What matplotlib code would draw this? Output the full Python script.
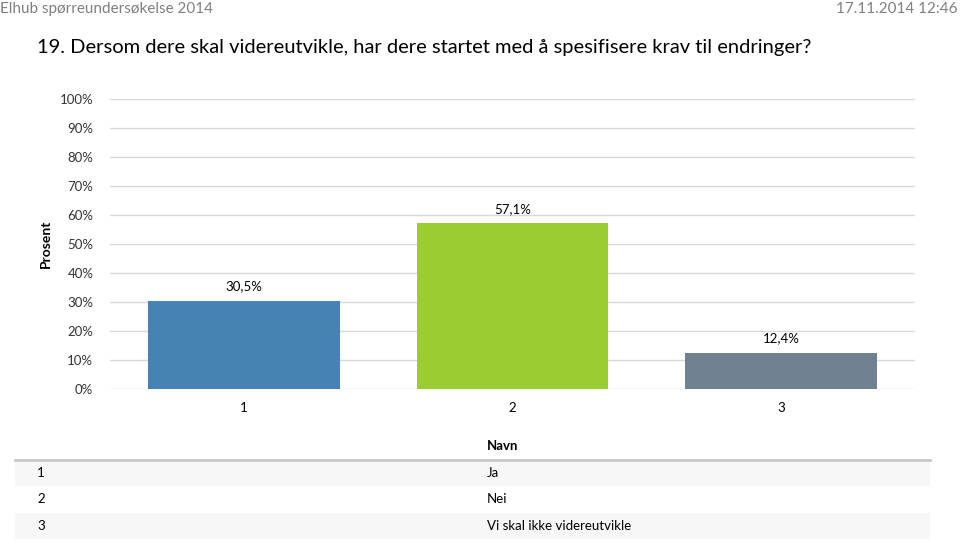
import matplotlib
matplotlib.use("Agg")
import matplotlib.pyplot as plt
from matplotlib.patches import Rectangle
from matplotlib.lines import Line2D

categories = ["1", "2", "3"]
values = [30.5, 57.1, 12.4]
value_labels = ["30,5%", "57,1%", "12,4%"]
colors = ["#4682B4", "#9ACD32", "#708090"]
yticks = [0, 10, 20, 30, 40, 50, 60, 70, 80, 90, 100]
names = ["Ja", "Nei", "Vi skal ikke videreutvikle"]

W, H = 960, 542
fig = plt.figure(figsize=(W / 100, H / 100), dpi=100)
FONT = "Lato"
plt.rcParams["font.family"] = [FONT, "DejaVu Sans"]

def fx(px):
    return px / W

def fy(py):
    return 1 - py / H

# header
fig.text(fx(0), fy(9), "Elhub spørreundersøkelse 2014", fontsize=11, color="#808080", va="center", ha="left")
fig.text(fx(958), fy(9), "17.11.2014 12:46", fontsize=11, color="#808080", va="center", ha="right")
fig.text(fx(37), fy(47), "19. Dersom dere skal videreutvikle, har dere startet med å spesifisere krav til endringer?",
         fontsize=14.5, color="#000000", va="center", ha="left")

# chart axes
x0, x1 = 110, 915
ytop, ybot = 99, 389
ax = fig.add_axes([fx(x0), fy(ybot), fx(x1) - fx(x0), (ybot - ytop) / H])
xs = list(range(len(categories)))
ax.bar(xs, values, width=0.715, color=colors, zorder=3)
for x, v, lab in zip(xs, values, value_labels):
    ax.text(x, v + 3, lab, ha="center", va="bottom", fontsize=9.5, color="#000000")
ax.set_xlim(-0.5, len(categories) - 0.5)
ax.set_ylim(0, 100)
ax.set_yticks(yticks)
ax.set_yticklabels([f"{t}%" for t in yticks], fontsize=9.5, color="#333333")
ax.set_xticks(xs)
ax.set_xticklabels(categories, fontsize=9.5)
ax.tick_params(axis="y", length=0, pad=12)
ax.tick_params(axis="x", length=0, pad=9)
ax.grid(axis="y", color="#d9d9d9", linewidth=1, zorder=0)
for s in ax.spines.values():
    s.set_visible(False)
ax.set_ylabel("Prosent", fontsize=10, fontweight="bold", labelpad=6)

# table
fig.text(fx(487), fy(446), "Navn", fontsize=9.5, fontweight="bold", va="center", ha="left")
fig.add_artist(Line2D([fx(15), fx(930)], [fy(460), fy(460)], color="#c8c8c8", linewidth=2, transform=fig.transFigure))
row_y = [473, 499, 526]
row_bg = ["#f7f7f7", "#ffffff", "#f7f7f7"]
for i, (c, n) in enumerate(zip(categories, names)):
    y = row_y[i]
    fig.add_artist(Rectangle((fx(15), fy(y + 13)), fx(930) - fx(15), 26 / H,
                             facecolor=row_bg[i], edgecolor="none", transform=fig.transFigure, zorder=0))
    fig.text(fx(37), fy(y), c, fontsize=9.5, va="center", ha="left")
    fig.text(fx(487), fy(y), n, fontsize=9.5, va="center", ha="left")

fig.savefig("out.png", dpi=100)
